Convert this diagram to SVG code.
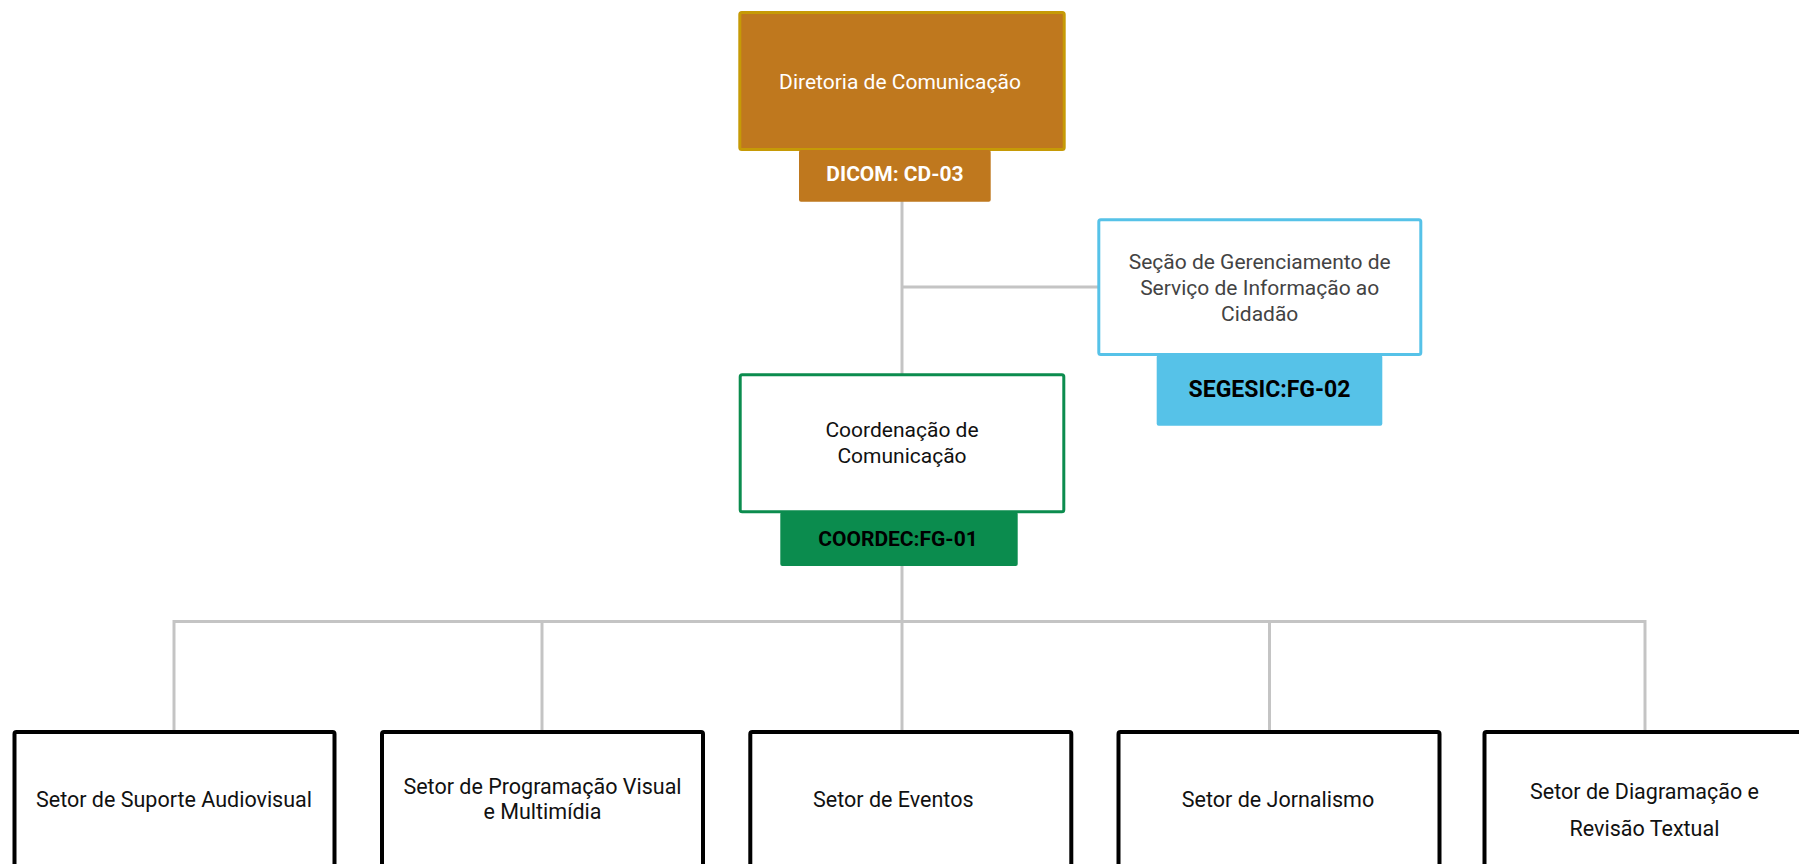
<svg xmlns="http://www.w3.org/2000/svg" width="1799" height="864" viewBox="0 0 1799 864">
<style>
  .t { font-family: Roboto, "Liberation Sans", sans-serif; font-size: 21px; text-anchor: middle; }
  .b { font-family: Roboto, "Liberation Sans", sans-serif; font-weight: bold; text-anchor: middle; }
  .conn { stroke: #c4c4c4; stroke-width: 3; fill: none; }
  .child rect { fill: #ffffff; stroke: #000000; stroke-width: 4; }
  .child text { fill: #111111; font-size: 21.5px; }
</style>
<rect width="1799" height="864" fill="#ffffff"/>
<g id="connectors">
  <path class="conn" d="M902 200 V376"/>
  <path class="conn" d="M902 287 H1099"/>
  <path class="conn" d="M902 565 V732"/>
  <path class="conn" d="M174 621.5 H1645"/>
  <path class="conn" d="M174 620 V732"/>
  <path class="conn" d="M542 620 V732"/>
  <path class="conn" d="M1269.5 620 V732"/>
  <path class="conn" d="M1645 620 V732"/>
</g>
<g id="node-dicom">
  <rect x="739.8" y="12.5" width="324.4" height="137" rx="2" fill="#bf781e" stroke="#c69a06" stroke-width="3"/>
  <text class="t" x="900" y="89" fill="#ffffff">Diretoria de Comunicação</text>
  <rect x="799" y="150" width="191.7" height="51.7" rx="2" fill="#bf781e"/>
  <text class="b" x="895" y="181" font-size="21" fill="#ffffff">DICOM: CD-03</text>
</g>
<g id="node-segesic">
  <rect x="1098.8" y="219.8" width="322" height="134.7" rx="2" fill="#ffffff" stroke="#56c2e8" stroke-width="3"/>
  <text class="t" x="1259.7" y="269.3" fill="#434343">Seção de Gerenciamento de</text>
  <text class="t" x="1259.7" y="295" fill="#434343">Serviço de Informação ao</text>
  <text class="t" x="1259.7" y="320.7" fill="#434343">Cidadão</text>
  <rect x="1156.7" y="355" width="225.6" height="70.7" rx="2" fill="#56c2e8"/>
  <text class="b" x="1269.5" y="397.3" font-size="23" fill="#000000">SEGESIC:FG-02</text>
</g>
<g id="node-coordec">
  <rect x="740.2" y="374.8" width="323.6" height="137" rx="2" fill="#ffffff" stroke="#0b8c4e" stroke-width="3"/>
  <text class="t" x="902" y="437.3" fill="#111111">Coordenação de</text>
  <text class="t" x="902" y="463.3" fill="#111111">Comunicação</text>
  <rect x="780.3" y="512" width="237.4" height="54" rx="2" fill="#0b8c4e"/>
  <text class="b" x="898" y="546" font-size="21" fill="#000000">COORDEC:FG-01</text>
</g>
<g id="node-audiovisual" class="child">
  <rect x="14.5" y="732" width="320" height="150" rx="2"/>
  <text class="t" x="174" y="807.3">Setor de Suporte Audiovisual</text>
</g>
<g id="node-programacao" class="child">
  <rect x="382" y="732" width="321" height="150" rx="2"/>
  <text class="t" x="542.5" y="794">Setor de Programação Visual</text>
  <text class="t" x="542.5" y="819.3">e Multimídia</text>
</g>
<g id="node-eventos" class="child">
  <rect x="750.3" y="732" width="321" height="150" rx="2"/>
  <text class="t" x="893.3" y="807.3">Setor de Eventos</text>
</g>
<g id="node-jornalismo" class="child">
  <rect x="1118.5" y="732" width="321" height="150" rx="2"/>
  <text class="t" x="1278" y="807.3">Setor de Jornalismo</text>
</g>
<g id="node-diagramacao" class="child">
  <rect x="1484.5" y="732" width="321" height="150" rx="2"/>
  <text class="t" x="1644.5" y="799.3">Setor de Diagramação e</text>
  <text class="t" x="1644.5" y="835.7">Revisão Textual</text>
</g>
</svg>
